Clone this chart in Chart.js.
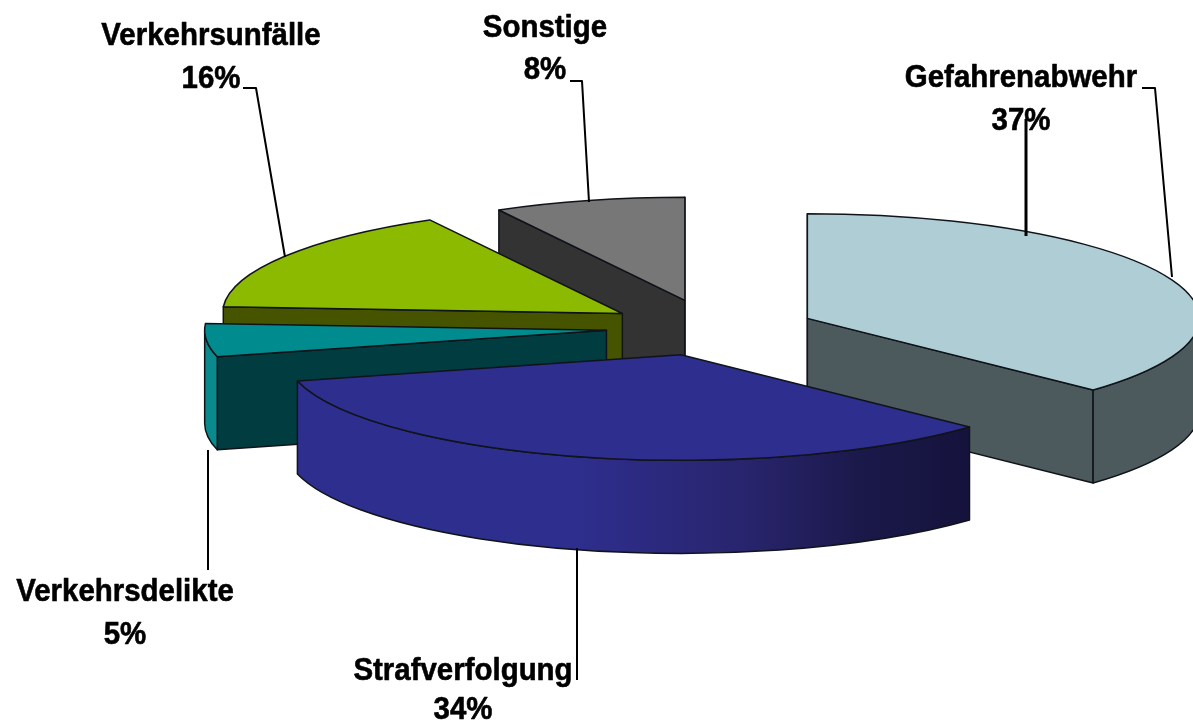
<!DOCTYPE html>
<html>
<head>
<meta charset="utf-8">
<style>
  html, body { margin: 0; background: #fff; }
  canvas { display: block; }
</style>
<script src="https://cdn.jsdelivr.net/npm/chart.js@4"></script>
</head>
<body>
<canvas id="myChart" width="1193" height="725"></canvas>
<script>
const categories = ['Gefahrenabwehr', 'Strafverfolgung', 'Verkehrsdelikte', 'Verkehrsunfälle', 'Sonstige'];
const shares = [37, 34, 5, 16, 8];

const topColors = ['#aecdd4', '#2e2e8e', '#008c8e', '#8cba00', '#777777'];
const wallColors = ['#4d5a5d', '#1a1640', '#003c40', '#465400', '#333333'];
const rimColors = ['#4d5a5d', '#2e2e8e', '#0a8a8c', '#465400', '#333333'];
const strafRimStops = [[0.42, '#2e2e8e'], [0.68, '#28246c'], [0.85, '#1a1848'], [1, '#15133c']];

// back to front
const drawOrder = [0, 4, 3, 2, 1];
// the original has perspective, flat ellipses need a small correction per slice
const sliceScale = [1, 1.01, 1.025, 1.02, 0.985];
const sliceNudge = [[0, 2], [-4, 0], [0, 0], [0, 1], [0, 0]];

const SQUASH = 0.267;
const EXPLODE = 105;
const DEPTH = 93;
const RADIUS = 392;

// label position: centre x, baseline of name, baseline of percent
const labelPos = [
  [1021, 87, 130],
  [463, 680, 719],
  [125, 601, 644],
  [211, 45, 88],
  [545, 37, 79],
];
const leaderLines = [
  [[1142, 88], [1155, 88], [1172, 277]],
  [[577, 548], [577, 680]],
  [[208, 450], [208, 570]],
  [[243, 88], [256, 88], [285, 257]],
  [[570, 81], [582, 81], [589, 202]],
];

function sliceGeometry(arc, i) {
  const mid = (arc.startAngle + arc.endAngle) / 2;
  const k = sliceScale[i];
  return {
    ax: arc.x + Math.cos(mid) * EXPLODE + sliceNudge[i][0],
    ay: arc.y + Math.sin(mid) * EXPLODE * SQUASH + sliceNudge[i][1],
    rx: arc.outerRadius * k,
    ry: arc.outerRadius * k * SQUASH,
    k,
  };
}

function fillStroke(ctx, color) {
  ctx.fillStyle = color;
  ctx.fill();
  ctx.stroke();
}

function radialWall(ctx, g, angle, color) {
  const px = g.ax + Math.cos(angle) * g.rx;
  const py = g.ay + Math.sin(angle) * g.ry;
  ctx.beginPath();
  ctx.moveTo(g.ax, g.ay);
  ctx.lineTo(px, py);
  ctx.lineTo(px, py + DEPTH);
  ctx.lineTo(g.ax, g.ay + DEPTH);
  ctx.closePath();
  fillStroke(ctx, color);
}

const pie3d = {
  id: 'pie3d',
  // replaces the flat drawing of the arcs
  beforeDatasetDraw(chart) {
    const ctx = chart.ctx;
    const arcs = chart.getDatasetMeta(0).data;
    ctx.lineWidth = 1.5;
    ctx.strokeStyle = '#10141a';
    ctx.lineJoin = 'round';

    drawOrder.forEach((i) => {
      const arc = arcs[i];
      const g = sliceGeometry(arc, i);

      // only the side walls that face the viewer
      if (Math.cos(arc.startAngle) < 1e-6) {
        radialWall(ctx, g, arc.startAngle, wallColors[i]);
      }
      if (Math.cos(arc.endAngle) > -1e-6) {
        radialWall(ctx, g, arc.endAngle, wallColors[i]);
      }

      // outer wall, only the front half of the circle can be seen
      const a0 = Math.max(arc.startAngle, 0);
      const a1 = Math.min(arc.endAngle, Math.PI);
      if (a1 > a0) {
        let rim = rimColors[i];
        if (i === 1) {
          rim = ctx.createLinearGradient(g.ax - g.rx, 0, g.ax + g.rx * Math.cos(a0), 0);
          strafRimStops.forEach((s) => rim.addColorStop(s[0], s[1]));
        }
        ctx.beginPath();
        ctx.ellipse(g.ax, g.ay, g.rx, g.ry, 0, a0, a1);
        ctx.ellipse(g.ax, g.ay + DEPTH, g.rx, g.ry, 0, a1, a0, true);
        ctx.closePath();
        fillStroke(ctx, rim);
      }

      // top face is the arc element itself, squashed
      ctx.save();
      ctx.translate(g.ax, g.ay);
      ctx.scale(g.k, g.k * SQUASH);
      ctx.translate(-arc.x, -arc.y);
      arc.draw(ctx);
      ctx.restore();

      ctx.beginPath();
      ctx.moveTo(g.ax, g.ay);
      ctx.ellipse(g.ax, g.ay, g.rx, g.ry, 0, arc.startAngle, arc.endAngle);
      ctx.closePath();
      ctx.stroke();
    });
    return false;
  },
  afterDraw(chart) {
    const ctx = chart.ctx;
    ctx.save();
    ctx.strokeStyle = '#000';
    ctx.lineWidth = 2;
    leaderLines.forEach((line) => {
      ctx.beginPath();
      line.forEach((p, n) => (n ? ctx.lineTo(p[0], p[1]) : ctx.moveTo(p[0], p[1])));
      ctx.stroke();
    });

    ctx.fillStyle = '#000';
    ctx.font = 'bold 32px "Liberation Sans"';
    ctx.textAlign = 'center';
    ctx.lineWidth = 0.6;
    categories.forEach((name, i) => {
      const pos = labelPos[i];
      [[name, pos[1]], [shares[i] + '%', pos[2]]].forEach((t) => {
        ctx.save();
        ctx.translate(pos[0], t[1]);
        ctx.scale(0.92, 1);
        ctx.fillText(t[0], 0, 0);
        ctx.strokeText(t[0], 0, 0);
        ctx.restore();
      });
    });

    // the heavy tick under 37%
    ctx.lineWidth = 3;
    ctx.beginPath();
    ctx.moveTo(1026, 119);
    ctx.lineTo(1026, 236);
    ctx.stroke();
    ctx.restore();
  },
};

new Chart(document.getElementById('myChart'), {
  type: 'pie',
  data: {
    labels: categories,
    datasets: [
      {
        data: shares,
        backgroundColor: topColors,
        borderWidth: 0,
        offset: 0,
      },
    ],
  },
  options: {
    responsive: false,
    animation: false,
    events: [],
    radius: RADIUS,
    layout: { padding: { left: 229, bottom: 70 } },
    plugins: {
      legend: { display: false },
      tooltip: { enabled: false },
    },
  },
  plugins: [pie3d],
});
</script>
</body>
</html>
